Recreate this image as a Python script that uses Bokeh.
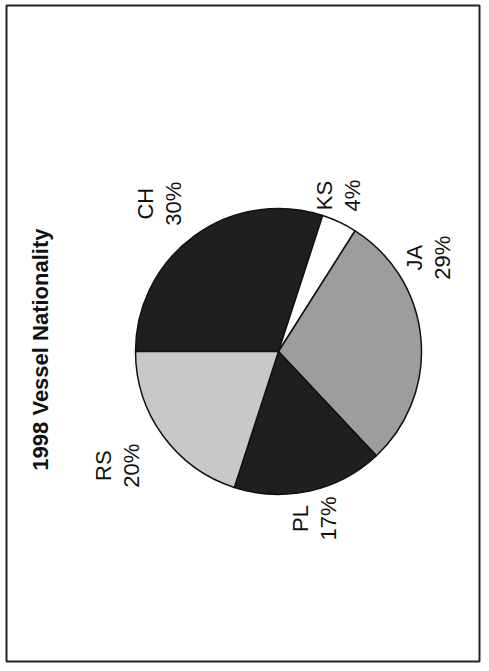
import math
from bokeh.plotting import figure
from bokeh.models import Range1d, ColumnDataSource
from bokeh.embed import file_html
from bokeh.resources import INLINE
from bokeh.core.properties import value

# ---------------- data ----------------
title_text = "1998  Vessel Nationality"
categories = ["CH", "KS", "JA", "PL", "RS"]
percents = [30, 4, 29, 17, 20]

# ---------------- styles / layout ----------------
slice_colors = ["#1f1f1f", "#ffffff", "#9d9d9d", "#1f1f1f", "#c8c8c8"]
FONT = "Liberation Sans"

PAGE_W, PAGE_H = 489, 671
OX, OY = 0, 0                       # plot origin in the photographed picture
W, H = 481, 663

CX, CY = 278, 351                   # pie centre (picture px)
R = 143                             # pie radius (px)
START_DEG = 180                     # first slice starts at 9 o'clock, goes clockwise

# label anchors relative to pie centre: (angle deg, distance px)
label_polar = [(128.9, 190), (69.0, 167), (32.0, 177), (-77.7, 171), (215.4, 197)]
LINE_GAP = 28                       # px between name and percentage columns

def dx(x):
    return x

def dy(y):
    return PAGE_H - y

p = figure(width=W, height=H, output_backend="svg", toolbar_location=None,
           x_axis_type=None, y_axis_type=None,
           x_range=Range1d(OX, OX + W), y_range=Range1d(PAGE_H - (OY + H), PAGE_H - OY),
           min_border=0)
p.outline_line_color = None
p.background_fill_color = "white"
p.border_fill_color = "white"
p.xgrid.visible = False
p.ygrid.visible = False

# outer frame
p.quad(left=[dx(6)], right=[dx(479)], top=[dy(5)], bottom=[dy(661)],
       fill_color=None, line_color="#222222", line_width=2)

# pie slices (clockwise from START_DEG)
total = float(sum(percents))
starts, ends = [], []
a = math.radians(START_DEG)
for v in percents:
    b = a - v / total * 2 * math.pi
    starts.append(b)
    ends.append(a)
    a = b
src = ColumnDataSource(dict(x=[dx(CX)] * len(percents), y=[dy(CY)] * len(percents),
                            s=starts, e=ends, c=slice_colors, cat=categories))
p.wedge(x="x", y="y", radius=R, start_angle="s", end_angle="e", source=src,
        fill_color="c", line_color="#111111", line_width=1.5)

# labels (rotated 90 deg, reading upward)
nx, ny, px_, py_, names, pcts = [], [], [], [], [], []
for cat, v, (ang, dist) in zip(categories, percents, label_polar):
    lx = CX + dist * math.cos(math.radians(ang))
    ly = CY - dist * math.sin(math.radians(ang))
    nx.append(dx(lx - LINE_GAP / 2)); ny.append(dy(ly))
    px_.append(dx(lx + LINE_GAP / 2)); py_.append(dy(ly))
    names.append(cat)
    pcts.append(f"{v}%")

p.text(x=nx, y=ny, text=names, angle=math.pi / 2, text_align="center",
       text_baseline="middle", text_font=value(FONT), text_font_size="22px",
       text_color="#111111")
p.text(x=px_, y=py_, text=pcts, angle=math.pi / 2, text_align="center",
       text_baseline="middle", text_font=value(FONT), text_font_size="22px",
       text_color="#111111")

# title
p.text(x=[dx(40)], y=[dy(346)], text=[title_text], angle=math.pi / 2,
       text_align="center", text_baseline="middle", text_font=value(FONT),
       text_font_size="22px", text_font_style="bold", text_color="#111111")

open("out.html", "w").write(file_html(p, INLINE))
